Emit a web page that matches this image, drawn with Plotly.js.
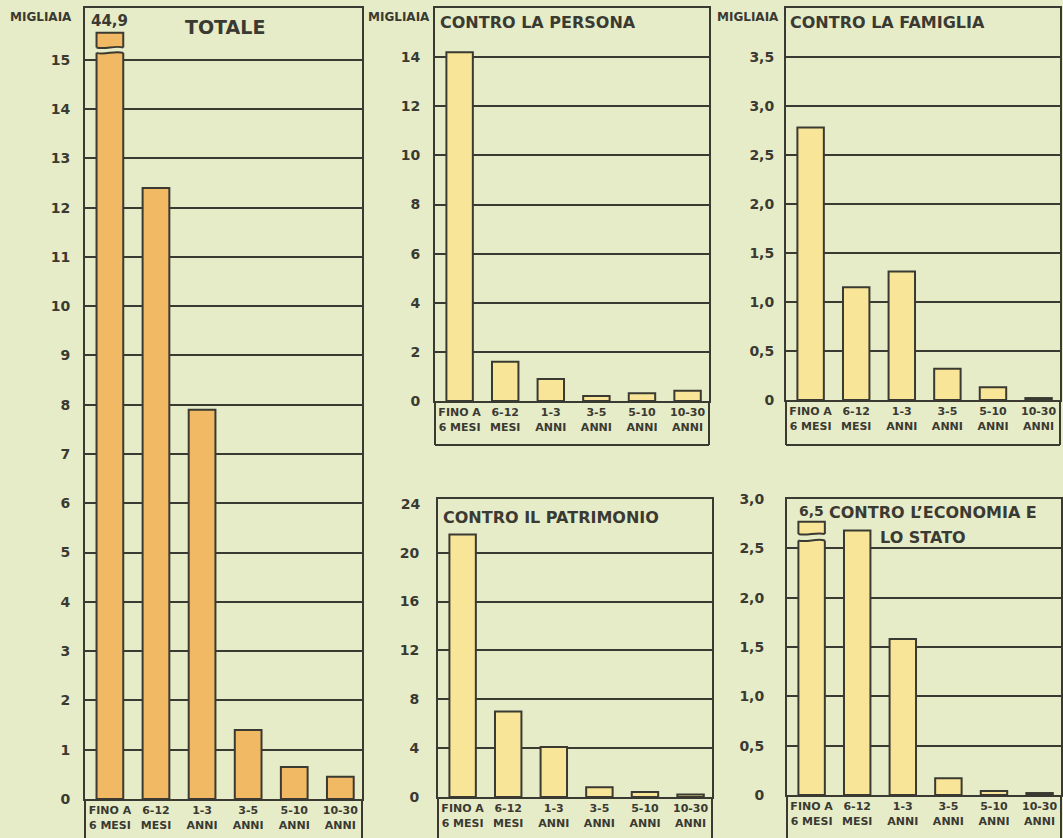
<!DOCTYPE html>
<html>
<head>
<meta charset="utf-8">
<script src="https://cdn.plot.ly/plotly-3.0.1.min.js"></script>
<style>
  html, body { margin: 0; padding: 0; background: #e7ecc8; }
  #chart { width: 1063px; height: 838px; }
</style>
</head>
<body>
<div id="chart"></div>
<script>
// ---------------- DATA ----------------
const categories = ["FINO A<br>6 MESI", "6-12<br>MESI", "1-3<br>ANNI", "3-5<br>ANNI", "5-10<br>ANNI", "10-30<br>ANNI"];
const totale     = [44.9, 12.4, 7.9, 1.4, 0.65, 0.45];
const persona    = [14.2, 1.6, 0.9, 0.2, 0.32, 0.42];
const famiglia   = [2.78, 1.15, 1.31, 0.32, 0.13, 0.02];
const patrimonio = [21.5, 7.0, 4.1, 0.8, 0.4, 0.2];
const economia   = [6.5, 2.68, 1.58, 0.17, 0.04, 0.02];

const ticksTotale     = [0,1,2,3,4,5,6,7,8,9,10,11,12,13,14,15];
const ticksPersona    = [0,2,4,6,8,10,12,14];
const ticksFamiglia   = [0,0.5,1,1.5,2,2.5,3,3.5];
const ticksPatrimonio = [0,4,8,12,16,20];
const ticksPatrimonioTop = [24];
const ticksEconomia   = [0,0.5,1,1.5,2,2.5,3];

// ---------------- STYLE / LAYOUT CONFIG ----------------
const W = 1063, H = 838;
const BG = '#e7ecc8';
const INK = '#3a3a32';
const ORANGE = '#f1b964';
const YELLOW = '#f8e597';
const FONT = 'DejaVu Sans, Liberation Sans, Arial, sans-serif';
const BAR_W = 0.58;
const XR = [-0.54, 5.47];

const fmtInt = v => String(v);
const fmtDec = v => v === 0 ? '0' : v.toFixed(1).replace('.', ',');

const panels = [
  {values: totale, color: ORANGE, xpx: [85, 362], top: 8, zero: 799, bottom: H + 4, rangeTop: 16.05, ticks: ticksTotale, fmt: fmtInt, ticklen: 10},
  {values: persona, color: YELLOW, xpx: [435, 709], top: 8, zero: 401, bottom: 445, rangeTop: 16.0, ticks: ticksPersona, fmt: fmtInt, ticklen: 10},
  {values: famiglia, color: YELLOW, xpx: [786, 1060], top: 8, zero: 400, bottom: 445, rangeTop: 4.0, ticks: ticksFamiglia, fmt: fmtDec, ticklen: 7},
  {values: patrimonio, color: YELLOW, xpx: [438, 712], top: 499, zero: 797, bottom: H + 4, rangeTop: 24.4, ticks: ticksPatrimonio, fmt: fmtInt, ticklen: 14},
  {values: economia, color: YELLOW, xpx: [787, 1061], top: 499, zero: 795, bottom: H + 4, rangeTop: 3.0, ticks: ticksEconomia, fmt: fmtDec, ticklen: 18}
];

// broken bars (scale breaks) : panel index, drawn top, gap limits
const breaks = [
  {panel: 0, drawTop: 15.55, gapLo: 15.14, gapHi: 15.25, amp: 0.045},
  {panel: 4, drawTop: 2.77, gapLo: 2.58, gapHi: 2.645, amp: 0.024}
];

const px = x => x / W;
const py = y => 1 - y / H;

const traces = [];
const layout = {
  width: W, height: H,
  margin: {l: 0, r: 0, t: 0, b: 0},
  paper_bgcolor: BG, plot_bgcolor: BG,
  showlegend: false,
  font: {family: FONT, color: INK},
  shapes: [], annotations: []
};

const xIdx = categories.map((c, i) => i);

panels.forEach((p, k) => {
  const n = k + 1;
  const xa = n === 1 ? 'x' : 'x' + n;
  const ya = n === 1 ? 'y' : 'y' + n;
  const brk = breaks.find(b => b.panel === k);
  const shown = p.values.map(v => (brk && v > brk.drawTop) ? brk.drawTop : v);
  traces.push({
    type: 'bar', x: xIdx, y: shown, xaxis: xa, yaxis: ya, width: BAR_W,
    marker: {color: p.color, line: {color: INK, width: 2}},
    customdata: p.values, hovertemplate: '%{customdata}<extra></extra>'
  });
  layout['xaxis' + (n === 1 ? '' : n)] = {
    domain: [px(p.xpx[0]), px(p.xpx[1])], anchor: ya, range: XR, fixedrange: true,
    tickvals: xIdx, ticktext: categories, ticks: '', showgrid: false, zeroline: false,
    showline: true, mirror: true, linecolor: INK, linewidth: 2,
    tickfont: {family: FONT, size: 11, color: INK, weight: 'bold'}
  };
  layout['yaxis' + (n === 1 ? '' : n)] = {
    domain: [py(p.zero), py(p.top)], anchor: xa, range: [0, p.rangeTop], fixedrange: true,
    tickvals: p.ticks, ticktext: p.ticks.map(p.fmt), ticks: 'outside', ticklen: p.ticklen,
    tickcolor: 'rgba(0,0,0,0)', showgrid: true, gridcolor: INK, gridwidth: 2, zeroline: false,
    showline: true, mirror: true, linecolor: INK, linewidth: 2,
    tickfont: {family: FONT, size: 14, color: INK, weight: 'bold'}
  };
  // label box below the axis
  [0, 1].forEach(side => {
    layout.shapes.push({type: 'line', xref: xa + ' domain', yref: 'paper',
      x0: side, x1: side, y0: py(p.zero), y1: py(p.bottom), line: {color: INK, width: 2}});
  });
  if (p.bottom < H) {
    layout.shapes.push({type: 'line', xref: xa + ' domain', yref: 'paper',
      x0: 0, x1: 1, y0: py(p.bottom), y1: py(p.bottom), line: {color: INK, width: 2}});
  }
  // scale break drawing
  if (brk) {
    p.values.forEach((v, i) => {
      if (v <= brk.drawTop) return;
      const hw = BAR_W / 2, e = 0.05, a = brk.amp;
      const xl = i - hw, xr = i + hw, w = xr - xl;
      const band = `M ${xl - e},${brk.gapHi} L ${xl},${brk.gapHi} ` +
        `C ${xl + w / 3},${brk.gapHi - a} ${xl + 2 * w / 3},${brk.gapHi + a} ${xr},${brk.gapHi} ` +
        `L ${xr + e},${brk.gapHi} L ${xr + e},${brk.gapLo} L ${xr},${brk.gapLo} ` +
        `C ${xl + 2 * w / 3},${brk.gapLo + a} ${xl + w / 3},${brk.gapLo - a} ${xl},${brk.gapLo} ` +
        `L ${xl - e},${brk.gapLo} Z`;
      layout.shapes.push({type: 'path', xref: xa, yref: ya, path: band, fillcolor: BG, line: {width: 0}, layer: 'above'});
      [brk.gapHi, brk.gapLo].forEach(yy => {
        layout.shapes.push({type: 'path', xref: xa, yref: ya, layer: 'above',
          path: `M ${xl},${yy} C ${xl + w / 3},${yy - a} ${xl + 2 * w / 3},${yy + a} ${xr},${yy}`,
          line: {color: INK, width: 2}});
      });
      layout.annotations.push({xref: xa, yref: ya, x: i, y: brk.drawTop, yanchor: 'bottom', yshift: 1,
        text: String(v).replace('.', ','), showarrow: false,
        font: {family: FONT, size: k === 0 ? 15 : 14, color: INK, weight: 'bold'}});
    });
  }
});

// extra label "24" on patrimonio axis without a grid line
layout.yaxis6 = {
  overlaying: 'y4', anchor: 'x4', side: 'left', range: [0, panels[3].rangeTop], fixedrange: true,
  tickvals: ticksPatrimonioTop, ticktext: ticksPatrimonioTop.map(fmtInt), ticks: 'outside',
  ticklen: panels[3].ticklen, tickcolor: 'rgba(0,0,0,0)', showgrid: false, zeroline: false, showline: false,
  tickfont: {family: FONT, size: 14, color: INK, weight: 'bold'}
};
traces.push({type: 'bar', x: [], y: [], xaxis: 'x4', yaxis: 'y6', hoverinfo: 'skip'});

// text labels
const txt = (text, x, y, size, anchor) => layout.annotations.push({
  xref: 'paper', yref: 'paper', x: px(x), y: py(y), xanchor: anchor || 'left', yanchor: 'middle',
  text: text, showarrow: false, font: {family: FONT, size: size, color: INK, weight: 'bold'}
});
txt('MIGLIAIA', 41, 17, 12, 'center');
txt('MIGLIAIA', 399, 17, 12, 'center');
txt('MIGLIAIA', 748, 17, 12, 'center');
txt('TOTALE', 225, 27, 19, 'center');
txt('CONTRO LA PERSONA', 438, 23, 16);
txt('CONTRO LA FAMIGLIA', 788, 23, 16);
txt('CONTRO IL PATRIMONIO', 441, 517, 16);
txt('CONTRO L’ECONOMIA E', 827, 512, 16);
txt('LO STATO', 878, 537, 16);

Plotly.newPlot('chart', traces, layout, {displayModeBar: false, staticPlot: true});
</script>
</body>
</html>
